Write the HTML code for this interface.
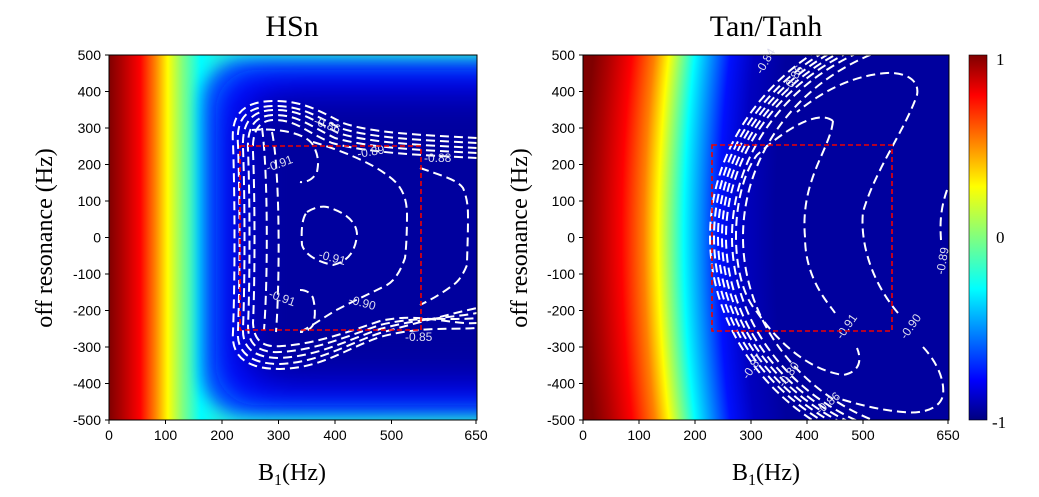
<!DOCTYPE html>
<html><head><style>
html,body{margin:0;background:#fff;width:1039px;height:497px;overflow:hidden}
svg{display:block}
.t{font-family:"Liberation Sans",sans-serif;font-size:14px;fill:#000}
.s{font-family:"Liberation Serif",serif;fill:#000}
.c{fill:none;stroke:#fff;stroke-width:2;stroke-dasharray:9 5}
.cl{font-family:"Liberation Sans",sans-serif;font-size:12px;fill:#dde}
</style></head><body>
<svg width="1039" height="497" viewBox="0 0 1039 497">
<defs>
<linearGradient id="gL" gradientUnits="userSpaceOnUse" x1="109" y1="0" x2="477" y2="0">
<stop offset="0" stop-color="#7f0000"/><stop offset="0.035" stop-color="#b00000"/>
<stop offset="0.085" stop-color="#ff0000"/><stop offset="0.125" stop-color="#ff8000"/>
<stop offset="0.16" stop-color="#ffff00"/><stop offset="0.2" stop-color="#80ff80"/>
<stop offset="0.25" stop-color="#00ffff"/><stop offset="0.3" stop-color="#20f0e0"/>
<stop offset="1" stop-color="#30ffd0"/>
</linearGradient>
<filter id="b8" filterUnits="userSpaceOnUse" x="0" y="0" width="1039" height="497"><feGaussianBlur stdDeviation="8"/></filter>
<filter id="b12" filterUnits="userSpaceOnUse" x="0" y="0" width="1039" height="497"><feGaussianBlur stdDeviation="12"/></filter>
<filter id="b16" filterUnits="userSpaceOnUse" x="0" y="0" width="1039" height="497"><feGaussianBlur stdDeviation="16"/></filter>
<radialGradient id="gR" gradientUnits="userSpaceOnUse" cx="2183" cy="237" r="1600">
<stop offset="0" stop-color="#00009e"/><stop offset="0.88" stop-color="#00009e"/>
<stop offset="0.9" stop-color="#0000c0"/><stop offset="0.915" stop-color="#0010ff"/>
<stop offset="0.937" stop-color="#00ffff"/><stop offset="0.953" stop-color="#ffff00"/>
<stop offset="0.962" stop-color="#ff8000"/><stop offset="0.976" stop-color="#ff0000"/>
<stop offset="0.99" stop-color="#b00000"/><stop offset="1" stop-color="#7f0000"/>
</radialGradient>
<linearGradient id="gC" x1="0" y1="0" x2="0" y2="1">
<stop offset="0" stop-color="#7f0000"/><stop offset="0.11" stop-color="#ff0000"/>
<stop offset="0.36" stop-color="#ffff00"/><stop offset="0.5" stop-color="#80ff80"/>
<stop offset="0.64" stop-color="#00ffff"/><stop offset="0.89" stop-color="#0000ff"/>
<stop offset="1" stop-color="#00007f"/>
</linearGradient>
<clipPath id="cpL"><rect x="109" y="55" width="368" height="365"/></clipPath>
<clipPath id="cpR"><rect x="583" y="55" width="366" height="365"/></clipPath>
</defs>

<!-- left plot -->
<g clip-path="url(#cpL)">
<rect x="109" y="55" width="368" height="365" fill="url(#gL)"/>
<rect x="202" y="60" width="340" height="355" rx="40" fill="#0070ff" filter="url(#b8)"/>
<rect x="216" y="70" width="330" height="335" rx="40" fill="#0010ff" filter="url(#b12)"/>
<rect x="238" y="88" width="310" height="300" rx="40" fill="#0000c8" filter="url(#b16)"/>
<rect x="255" y="102" width="300" height="272" rx="40" fill="#00009e" filter="url(#b16)"/>
<g>
<path class="c" d="M477,143 C420,140 370,138 340,128 C315,115 300,106 275,106 C245,106 236,120 238,145 C240,200 240,280 238,330 C236,352 250,364 280,364 C320,362 345,345 380,333 C420,322 450,314 477,308"/>
<path class="c" d="M477,148 C420,145 370,143 338,133 C313,120 300,110 275,110 C250,110 242,124 243,148 C245,200 245,280 243,328 C242,348 254,358 280,358 C318,356 345,341 380,329 C420,318 450,318 477,313"/>
<path class="c" d="M477,153 C420,150 370,148 335,138 C310,126 298,115 275,115 C254,115 247,128 248,150 C250,200 250,280 248,326 C248,344 258,353 280,352 C316,350 345,337 380,325 C420,315 450,321 477,318"/>
<path class="c" d="M477,158 C420,155 368,153 332,143 C306,132 296,120 275,120 C258,120 252,132 253,152 C255,200 255,280 253,323 C254,340 262,348 282,346 C314,344 345,333 380,321 C420,312 450,325 477,323"/>
<path class="c" d="M477,138 C420,135 372,133 343,123 C318,110 302,101 275,101 C240,101 231,117 233,143 C235,200 235,280 233,332 C231,356 246,369 280,369 C322,368 345,349 380,337 C420,326 450,330 477,328"/>
<path class="c" d="M262,128 C268,170 268,280 264,330"/>
<path class="c" d="M272,132 C280,170 280,280 276,332"/>
<path class="c" d="M313,142 C340,150 370,162 387,175 C402,185 407,198 407,215 C407,235 406,250 405,258 C400,272 395,280 387,285 C365,296 345,305 333,312 C320,320 310,327 300,332"/>
<path class="c" d="M420,168 C440,175 458,180 463,188 C468,200 468,210 468,218 C468,240 467,255 467,265 C463,275 458,282 453,285 C440,295 430,300 420,305"/>
<path class="c" d="M252,130 C275,128 305,132 313,145 C320,158 318,166 317,172 C313,180 305,183 300,182"/>
<path class="c" d="M300,290 C306,290 311,293 313,298 C316,310 315,318 313,325 C310,330 305,332 300,332"/>
<path class="c" d="M307,212 C315,207 322,206 327,207 C345,212 357,222 357,235 C355,255 345,262 333,265 C318,262 305,255 302,245 C301,230 302,218 307,212"/>
</g>
</g>
<text class="cl" x="313" y="124" transform="rotate(20 313 124)">-0.86</text>
<text class="cl" x="358" y="158" transform="rotate(-10 358 158)">-0.89</text>
<text class="cl" x="424" y="162">-0.88</text>
<text class="cl" x="268" y="172" transform="rotate(-20 268 172)">-0.91</text>
<text class="cl" x="318" y="258" transform="rotate(15 318 258)">-0.91</text>
<text class="cl" x="268" y="297" transform="rotate(20 268 297)">-0.91</text>
<text class="cl" x="348" y="303" transform="rotate(15 348 303)">-0.90</text>
<text class="cl" x="405" y="341">-0.85</text>
<rect x="240" y="146" width="181" height="184" fill="none" stroke="#e00" stroke-width="1.6" stroke-dasharray="5 3"/>
<rect x="109" y="55" width="368" height="365" fill="none" stroke="#000" stroke-width="1"/>

<!-- right plot -->
<rect x="583" y="55" width="366" height="365" fill="url(#gR)"/>
<g clip-path="url(#cpR)">
<ellipse class="c" cx="960" cy="237" rx="250" ry="227"/>
<ellipse class="c" cx="960" cy="237" rx="246" ry="222"/>
<ellipse class="c" cx="960" cy="237" rx="242" ry="218"/>
<ellipse class="c" cx="960" cy="237" rx="238" ry="214"/>
<ellipse class="c" cx="960" cy="237" rx="234" ry="210"/>
<ellipse class="c" cx="960" cy="237" rx="228" ry="206"/>
<ellipse class="c" cx="960" cy="237" rx="217" ry="200"/>
<path class="c" d="M833,121 C820,110 790,125 757,155 C730,190 728,280 757,312 C780,345 810,370 843,375 C860,372 862,360 857,348"/>
<path class="c" d="M833,121 C830,150 800,180 805,237 C805,280 830,305 835,313"/>
<path class="c" d="M898,313 C870,280 860,240 863,212 C875,170 905,130 917,95 C920,80 905,72 887,73 C860,75 830,85 797,112"/>
<path class="c" d="M923,347 C935,360 945,378 943,395 C940,410 920,414 903,412 C880,410 860,405 837,398"/>
<path class="c" d="M947,190 C940,210 940,225 941,240"/>
</g>
<text class="cl" x="762" y="75" transform="rotate(-60 762 75)">-0.84</text>
<text class="cl" x="790" y="92" transform="rotate(-60 790 92)">-0.86</text>
<text class="cl" x="842" y="340" transform="rotate(-55 842 340)">-0.91</text>
<text class="cl" x="906" y="340" transform="rotate(-55 906 340)">-0.90</text>
<text class="cl" x="748" y="380" transform="rotate(-55 748 380)">-0.87</text>
<text class="cl" x="784" y="388" transform="rotate(-55 784 388)">-0.80</text>
<text class="cl" x="820" y="415" transform="rotate(-40 820 415)">-0.86</text>
<text class="cl" x="944" y="275" transform="rotate(-80 944 275)">-0.89</text>
<rect x="712" y="145" width="180" height="186" fill="none" stroke="#e00" stroke-width="1.6" stroke-dasharray="5 3"/>
<rect x="583" y="55" width="366" height="365" fill="none" stroke="#000" stroke-width="1"/>

<!-- colorbar -->
<rect x="969" y="55" width="18" height="365" fill="url(#gC)" stroke="#000" stroke-width="0.6"/>
<text class="s" x="996" y="65" font-size="17">1</text>
<text class="s" x="996" y="243" font-size="17">0</text>
<text class="s" x="992" y="428" font-size="17">-1</text>

<g stroke="#000" stroke-width="1">
<path d="M105,55h4M105,91.5h4M105,128h4M105,164.5h4M105,201h4M105,237.5h4M105,274h4M105,310.5h4M105,347h4M105,383.5h4M105,420h4"/>
<path d="M109,420v4M165.5,420v4M222,420v4M278.5,420v4M335,420v4M391.5,420v4M476,420v4"/>
<path d="M579,55h4M579,91.5h4M579,128h4M579,164.5h4M579,201h4M579,237.5h4M579,274h4M579,310.5h4M579,347h4M579,383.5h4M579,420h4"/>
<path d="M583,420v4M639,420v4M695,420v4M751,420v4M807,420v4M863,420v4M948,420v4"/>
</g>
<g class="t" text-anchor="end">
<text x="101" y="60">500</text><text x="101" y="96.5">400</text><text x="101" y="133">300</text><text x="101" y="169.5">200</text><text x="101" y="206">100</text><text x="101" y="242.5">0</text><text x="101" y="279">-100</text><text x="101" y="315.5">-200</text><text x="101" y="352">-300</text><text x="101" y="388.5">-400</text><text x="101" y="425">-500</text>
<text x="575" y="60">500</text><text x="575" y="96.5">400</text><text x="575" y="133">300</text><text x="575" y="169.5">200</text><text x="575" y="206">100</text><text x="575" y="242.5">0</text><text x="575" y="279">-100</text><text x="575" y="315.5">-200</text><text x="575" y="352">-300</text><text x="575" y="388.5">-400</text><text x="575" y="425">-500</text>
</g>
<g class="t" text-anchor="middle">
<text x="109" y="440">0</text><text x="165.5" y="440">100</text><text x="222" y="440">200</text><text x="278.5" y="440">300</text><text x="335" y="440">400</text><text x="391.5" y="440">500</text><text x="476" y="440">650</text>
<text x="583" y="440">0</text><text x="639" y="440">100</text><text x="695" y="440">200</text><text x="751" y="440">300</text><text x="807" y="440">400</text><text x="863" y="440">500</text><text x="948" y="440">650</text>
</g>

<text class="s" x="292" y="36" font-size="30" text-anchor="middle">HSn</text>
<text class="s" x="766" y="36" font-size="30" text-anchor="middle">Tan/Tanh</text>
<text class="s" x="292" y="480" font-size="24" text-anchor="middle">B<tspan font-size="16" dy="5">1</tspan><tspan dy="-5">(Hz)</tspan></text>
<text class="s" x="766" y="480" font-size="24" text-anchor="middle">B<tspan font-size="16" dy="5">1</tspan><tspan dy="-5">(Hz)</tspan></text>
<text class="s" font-size="24" text-anchor="middle" transform="translate(52,238) rotate(-90)">off resonance (Hz)</text>
<text class="s" font-size="24" text-anchor="middle" transform="translate(527,238) rotate(-90)">off resonance (Hz)</text>
</svg>
</body></html>
